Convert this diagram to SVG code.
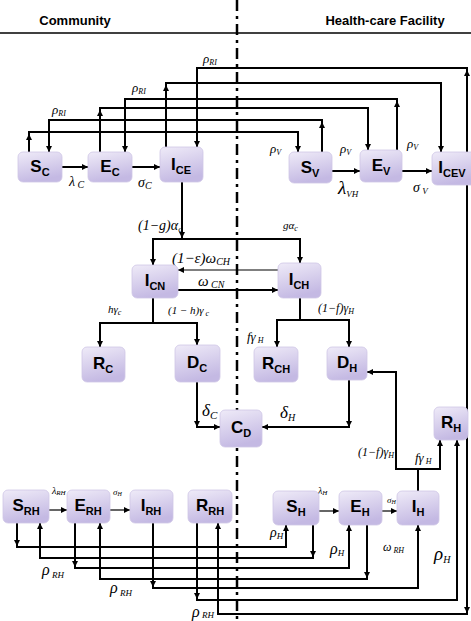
<svg xmlns="http://www.w3.org/2000/svg" width="471" height="621" viewBox="0 0 471 621">
<style>
.ln{fill:none;stroke:#000;stroke-width:2}
.th{fill:none;stroke:#000;stroke-width:1.2}
.ar{marker-end:url(#arr)}
.box{fill:url(#g);stroke:#cfc6e6;stroke-width:0.8}
.nt{font-family:"Liberation Sans",sans-serif;font-weight:bold;font-size:17px;text-anchor:middle;fill:#000}
.sb{font-size:11px}
.m{font-family:"Liberation Serif",serif;font-style:italic;fill:#000}
.hd{font-family:"Liberation Sans",sans-serif;font-weight:bold;font-size:13px;text-anchor:middle}
</style>
<defs>
<linearGradient id="g" x1="0" y1="0" x2="0.3" y2="1">
<stop offset="0" stop-color="#efebf8"/>
<stop offset="1" stop-color="#c4b9e3"/>
</linearGradient>
<marker id="arr" viewBox="0 0 10 10" refX="10" refY="5" markerWidth="6.5" markerHeight="6" markerUnits="userSpaceOnUse" orient="auto">
<path d="M0,0 L10,5 L0,10 z" fill="#000"/>
</marker>
</defs>
<rect width="471" height="621" fill="#fff"/>
<text class="hd" x="75" y="25">Community</text>
<text class="hd" x="385" y="25">Health-care Facility</text>
<line x1="0" y1="33" x2="471" y2="33" stroke="#000" stroke-width="1.5"/>
<line x1="237" y1="0" x2="237" y2="621" stroke="#000" stroke-width="2.5" stroke-dasharray="11,5,3,5"/>
<g id="connectors">
<path class="ln ar" d="M467,152 V68 H197 V147"/>
<path class="ln ar" d="M467,82 V70"/>
<path class="ln ar" d="M166,147 V83 H441 V152"/>
<path class="ln ar" d="M166,97 V85"/>
<path class="ln ar" d="M397,150 V99 H125 V152"/>
<path class="ln ar" d="M397,113 V101"/>
<path class="ln ar" d="M100,152 V108 H368 V150"/>
<path class="ln ar" d="M100,122 V110"/>
<path class="ln ar" d="M322,152 V120 H49 V152"/>
<path class="ln ar" d="M322,134 V122"/>
<path class="ln ar" d="M29,152 V132 H298 V152"/>
<path class="ln ar" d="M29,146 V134"/>
<path class="ln ar" d="M62,167 H88"/>
<path class="ln ar" d="M132,167 H160"/>
<path class="ln ar" d="M332,171 H360"/>
<path class="ln ar" d="M402,171 H432"/>
<path class="ln ar" d="M182,182 V238"/>
<path class="ln ar" d="M182,239 H153 V265"/>
<path class="ln ar" d="M182,239 H300 V263"/>
<path class="th ar" d="M278,270 H178"/>
<path class="ln ar" d="M178,290 H278"/>
<path class="ln" d="M153,298 V323"/>
<path class="ln ar" d="M153,323 H100 V347"/>
<path class="ln ar" d="M153,323 H197 V345"/>
<path class="ln" d="M300,298 V320"/>
<path class="ln ar" d="M300,320 H277 V347"/>
<path class="ln ar" d="M300,320 H349 V347"/>
<path class="ln ar" d="M197,382 V427 H220"/>
<path class="ln ar" d="M197,416 V427"/>
<path class="ln ar" d="M349,380 V427 H262"/>
<path class="ln ar" d="M349,416 V427"/>
<path class="ln" d="M418,491 V469"/>
<path class="ln ar" d="M418,469 H396 V372 H367"/>
<path class="ln ar" d="M418,469 H440 V440"/>
<path class="th ar" d="M49,510 H67"/>
<path class="th ar" d="M110,510 H130"/>
<path class="th ar" d="M319,511 H339"/>
<path class="th ar" d="M382,511 H397"/>
<path class="ln ar" d="M17,523 V547 H286 V525"/>
<path class="ln ar" d="M17,535 V546"/>
<path class="ln ar" d="M313,525 V558 H40 V523"/>
<path class="ln ar" d="M313,546 V557"/>
<path class="ln ar" d="M75,523 V568 H349 V525"/>
<path class="ln ar" d="M75,556 V567"/>
<path class="ln ar" d="M367,525 V579 H100 V523"/>
<path class="ln ar" d="M367,567 V578"/>
<path class="ln ar" d="M153,523 V588 H418 V525"/>
<path class="ln ar" d="M153,576 V587"/>
<path class="ln ar" d="M197,523 V600 H457 V440"/>
<path class="ln ar" d="M197,588 V599"/>
<path class="ln ar" d="M467,185 V614 H218 V523"/>
<path class="ln ar" d="M467,600 V613"/>
</g>
<g id="labels">
<text class="m" x="203" y="63" font-size="13">ρ<tspan font-size="8" dy="2">RI</tspan></text>
<text class="m" x="132" y="92" font-size="13">ρ<tspan font-size="8" dy="2">RI</tspan></text>
<text class="m" x="52" y="114" font-size="13">ρ<tspan font-size="8" dy="2">RI</tspan></text>
<text class="m" x="69" y="186" font-size="14">λ<tspan font-size="10" dy="2"> C</tspan></text>
<text class="m" x="138" y="187" font-size="14">σ<tspan font-size="10" dy="2">C</tspan></text>
<text class="m" x="270" y="153" font-size="13">ρ<tspan font-size="8" dy="2">V</tspan></text>
<text class="m" x="340" y="153" font-size="13">ρ<tspan font-size="8" dy="2">V</tspan></text>
<text class="m" x="407" y="148" font-size="13">ρ<tspan font-size="8" dy="2">V</tspan></text>
<text class="m" x="338" y="194" font-size="19">λ<tspan font-size="9" dy="3">VH</tspan></text>
<text class="m" x="413" y="192" font-size="14">σ<tspan font-size="9" dy="2"> V</tspan></text>
<text class="m" x="138" y="230" font-size="14">(1−g)α<tspan font-size="9" dy="2">c</tspan></text>
<text class="m" x="283" y="229" font-size="11">gα<tspan font-size="8" dy="2">c</tspan></text>
<text class="m" x="172" y="263" font-size="15">(1−ε)ω<tspan font-size="10" dy="2">CH</tspan></text>
<text class="m" x="198" y="286" font-size="15">ω<tspan font-size="10" dy="2"> CN</tspan></text>
<text class="m" x="108" y="313" font-size="11">hγ<tspan font-size="8" dy="2">c</tspan></text>
<text class="m" x="168" y="314" font-size="11">(1 − h)γ<tspan font-size="8" dy="2"> c</tspan></text>
<text class="m" x="318" y="312" font-size="12">(1−f)γ<tspan font-size="8" dy="2">H</tspan></text>
<text class="m" x="247" y="341" font-size="13">fγ<tspan font-size="8" dy="2"> H</tspan></text>
<text class="m" x="202" y="416" font-size="17">δ<tspan font-size="11" dy="3">C</tspan></text>
<text class="m" x="280" y="418" font-size="17">δ<tspan font-size="10" dy="3">H</tspan></text>
<text class="m" x="358" y="456" font-size="12">(1−f)γ<tspan font-size="8" dy="2">H</tspan></text>
<text class="m" x="415" y="462" font-size="13">fγ<tspan font-size="8" dy="2"> H</tspan></text>
<text class="m" x="52" y="494" font-size="10">λ<tspan font-size="7" dy="1">RH</tspan></text>
<text class="m" x="113" y="495" font-size="9">σ<tspan font-size="6" dy="1">H</tspan></text>
<text class="m" x="318" y="494" font-size="10">λ<tspan font-size="7" dy="1">H</tspan></text>
<text class="m" x="387" y="503" font-size="9">σ<tspan font-size="6" dy="1">H</tspan></text>
<text class="m" x="270" y="537" font-size="14">ρ<tspan font-size="9" dy="2">H</tspan></text>
<text class="m" x="330" y="554" font-size="16">ρ<tspan font-size="9" dy="2">H</tspan></text>
<text class="m" x="383" y="551" font-size="12">ω<tspan font-size="8" dy="2"> RH</tspan></text>
<text class="m" x="434" y="560" font-size="19">ρ<tspan font-size="10" dy="3">H</tspan></text>
<text class="m" x="42" y="575" font-size="16">ρ<tspan font-size="9" dy="3"> RH</tspan></text>
<text class="m" x="110" y="593" font-size="16">ρ<tspan font-size="9" dy="3"> RH</tspan></text>
<text class="m" x="192" y="617" font-size="16">ρ<tspan font-size="9" dy="1"> RH</tspan></text>
</g>
<g id="SC"><rect class="box" x="18" y="152" width="44" height="30" rx="5"/><text class="nt" x="40" y="172">S<tspan class="sb" dy="4">C</tspan></text></g>
<g id="EC"><rect class="box" x="88" y="152" width="44" height="30" rx="5"/><text class="nt" x="110" y="172">E<tspan class="sb" dy="4">C</tspan></text></g>
<g id="ICE"><rect class="box" x="160" y="147" width="43" height="35" rx="5"/><text class="nt" x="181" y="170">I<tspan class="sb" dy="4">CE</tspan></text></g>
<g id="SV"><rect class="box" x="289" y="152" width="43" height="31" rx="5"/><text class="nt" x="310" y="173">S<tspan class="sb" dy="4">V</tspan></text></g>
<g id="EV"><rect class="box" x="360" y="150" width="42" height="32" rx="5"/><text class="nt" x="381" y="171">E<tspan class="sb" dy="4">V</tspan></text></g>
<g id="ICEV"><rect class="box" x="432" y="152" width="44" height="33" rx="5"/><text class="nt" x="452" y="173">I<tspan class="sb" dy="4">CEV</tspan></text></g>
<g id="ICN"><rect class="box" x="132" y="265" width="46" height="33" rx="5"/><text class="nt" x="155" y="286">I<tspan class="sb" dy="4">CN</tspan></text></g>
<g id="ICH"><rect class="box" x="278" y="263" width="43" height="35" rx="5"/><text class="nt" x="299" y="285">I<tspan class="sb" dy="4">CH</tspan></text></g>
<g id="RC"><rect class="box" x="82" y="347" width="43" height="35" rx="5"/><text class="nt" x="103" y="369">R<tspan class="sb" dy="4">C</tspan></text></g>
<g id="DC"><rect class="box" x="175" y="345" width="45" height="37" rx="5"/><text class="nt" x="197" y="368">D<tspan class="sb" dy="4">C</tspan></text></g>
<g id="RCH"><rect class="box" x="254" y="347" width="44" height="35" rx="5"/><text class="nt" x="276" y="369">R<tspan class="sb" dy="4">CH</tspan></text></g>
<g id="DH"><rect class="box" x="327" y="347" width="40" height="33" rx="5"/><text class="nt" x="347" y="368">D<tspan class="sb" dy="4">H</tspan></text></g>
<g id="CD"><rect class="box" x="220" y="410" width="42" height="37" rx="5"/><text class="nt" x="241" y="433">C<tspan class="sb" dy="4">D</tspan></text></g>
<g id="RH"><rect class="box" x="434" y="407" width="34" height="33" rx="5"/><text class="nt" x="451" y="428">R<tspan class="sb" dy="4">H</tspan></text></g>
<g id="SRH"><rect class="box" x="3" y="490" width="46" height="33" rx="5"/><text class="nt" x="26" y="511">S<tspan class="sb" dy="4">RH</tspan></text></g>
<g id="ERH"><rect class="box" x="67" y="490" width="43" height="33" rx="5"/><text class="nt" x="88" y="511">E<tspan class="sb" dy="4">RH</tspan></text></g>
<g id="IRH"><rect class="box" x="130" y="490" width="43" height="33" rx="5"/><text class="nt" x="151" y="511">I<tspan class="sb" dy="4">RH</tspan></text></g>
<g id="RRH"><rect class="box" x="188" y="490" width="44" height="33" rx="5"/><text class="nt" x="210" y="511">R<tspan class="sb" dy="4">RH</tspan></text></g>
<g id="SH"><rect class="box" x="273" y="491" width="46" height="34" rx="5"/><text class="nt" x="296" y="512">S<tspan class="sb" dy="4">H</tspan></text></g>
<g id="EH"><rect class="box" x="339" y="491" width="43" height="34" rx="5"/><text class="nt" x="360" y="512">E<tspan class="sb" dy="4">H</tspan></text></g>
<g id="IH"><rect class="box" x="397" y="491" width="42" height="34" rx="5"/><text class="nt" x="418" y="512">I<tspan class="sb" dy="4">H</tspan></text></g>
</svg>
